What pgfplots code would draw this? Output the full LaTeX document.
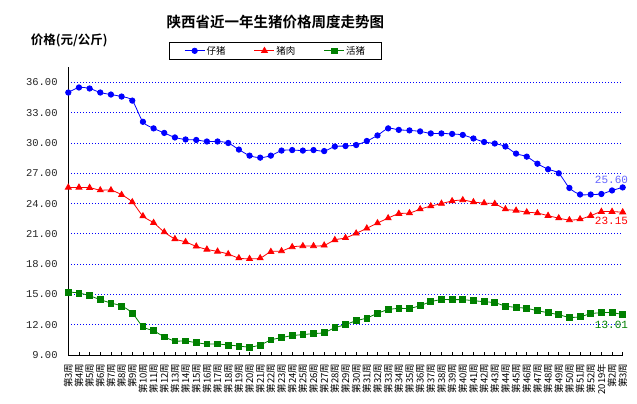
\documentclass[border=0pt]{standalone}
\usepackage{pgfplots}
\pgfplotsset{compat=1.18}
\usepackage{pgfplotstable}
\usepackage{fontspec}
\setmainfont{Noto Sans CJK SC}[BoldFont={Noto Sans CJK SC Bold}]
\newfontfamily\monofont{Liberation Mono}
\definecolor{lblblue}{HTML}{6666FF}
\definecolor{xlgreen}{HTML}{008000}

\pgfplotstableread{
x piglet pork hog
0 35.00 25.60 15.24
1 35.50 25.60 15.14
2 35.40 25.57 14.87
3 35.00 25.33 14.48
4 34.80 25.33 14.15
5 34.60 24.87 13.85
6 34.20 24.15 13.16
7 32.10 22.76 11.80
8 31.45 22.10 11.40
9 31.00 21.18 10.80
10 30.55 20.50 10.39
11 30.35 20.20 10.39
12 30.30 19.76 10.22
13 30.15 19.46 10.09
14 30.15 19.26 10.09
15 30.00 19.00 9.99
16 29.35 18.60 9.89
17 28.75 18.53 9.79
18 28.55 18.60 9.99
19 28.75 19.23 10.49
20 29.25 19.30 10.72
21 29.30 19.70 10.92
22 29.25 19.80 11.02
23 29.30 19.80 11.12
24 29.20 19.86 11.22
25 29.65 20.40 11.70
26 29.70 20.60 12.01
27 29.80 21.05 12.40
28 30.20 21.55 12.66
29 30.75 22.07 13.13
30 31.45 22.56 13.49
31 31.30 23.00 13.62
32 31.25 23.06 13.62
33 31.15 23.45 13.89
34 30.95 23.75 14.28
35 30.95 24.00 14.48
36 30.90 24.25 14.48
37 30.80 24.35 14.48
38 30.45 24.15 14.38
39 30.10 24.05 14.28
40 29.95 23.98 14.18
41 29.65 23.45 13.85
42 28.95 23.32 13.72
43 28.65 23.15 13.62
44 27.95 23.06 13.39
45 27.40 22.80 13.19
46 27.00 22.56 12.99
47 25.55 22.37 12.73
48 24.90 22.46 12.79
49 24.90 22.80 13.09
50 24.95 23.20 13.19
51 25.30 23.20 13.19
52 25.60 23.15 13.01
}\datatable

\begin{document}
\begin{tikzpicture}[x=1pt,y=1pt]
\useasboundingbox (0,0) rectangle (637,404);
\node[font=\bfseries\fontsize{14.5}{16}\selectfont] at (275.3,382.3) {陕西省近一年生猪价格周度走势图};
\node[font=\bfseries\fontsize{12.5}{14}\selectfont] at (69.3,363.3) {价格(元/公斤)};
\begin{axis}[
  at={(68.3pt,49pt)}, anchor=south west,
  scale only axis, width=554.4pt, height=287.7pt,
  xmin=0, xmax=52, ymin=9, ymax=37.5,
  axis lines=left,
  axis line style={-, black, line width=0.8pt},
  ytick={9,12,...,36},
  xtick={0,...,52},
  xticklabels={第3周,第4周,第5周,第6周,第7周,第8周,第9周,第10周,第11周,第12周,第13周,第14周,第15周,第16周,第17周,第18周,第19周,第20周,第21周,第22周,第23周,第24周,第25周,第26周,第27周,第28周,第29周,第30周,第31周,第32周,第33周,第34周,第35周,第36周,第37周,第38周,第39周,第40周,第41周,第42周,第43周,第44周,第45周,第46周,第47周,第48周,第49周,第50周,第51周,第52周,2019年,第2周,第3周},
  tick align=inside,
  major tick length=3pt,
  ytick style={draw=none},
  xtick style={black, line width=0.6pt},
  ymajorgrids,
  grid style={blue, dash pattern=on 1pt off 2pt, line width=0.8pt},
  /pgf/number format/assume math mode=true,
  yticklabel={\pgfmathprintnumber[fixed,fixed zerofill,precision=2]{\tick}},
  yticklabel style={font=\monofont\fontsize{10.5}{10.5}\selectfont, inner sep=0pt, text=black!85},
  yticklabel shift=10.5pt,
  xticklabel style={rotate=90, anchor=east, font=\fontsize{9.5}{9.5}\selectfont, inner sep=0pt},
  xticklabel shift=8.5pt,
  legend columns=3,
  legend style={at={(0.3737,1.0573)}, anchor=center, draw=black, line width=0.8pt,
    font=\fontsize{9.5}{10}\selectfont, inner xsep=15pt, inner ysep=2pt,
    nodes={inner sep=1.5pt},
    /tikz/every even column/.append style={column sep=27pt}},
  legend image code/.code={\draw[mark repeat=2,mark phase=2] plot coordinates {(0pt,0pt)(10pt,0pt)(20pt,0pt)};},
  clip=false,
]
\addplot[blue, line width=0.8pt, smooth, tension=0.5, mark=*, mark size=2.7pt, mark options={solid}] table[x=x,y=piglet] {\datatable};
\addlegendentry{仔猪}
\addplot[red, line width=0.8pt, smooth, tension=0.5, mark=triangle*, mark size=3.4pt, mark options={solid}] table[x=x,y=pork] {\datatable};
\addlegendentry{猪肉}
\addplot[xlgreen, line width=0.8pt, smooth, tension=0.5, mark=square*, mark size=2.9pt, mark options={solid}] table[x=x,y=hog] {\datatable};
\addlegendentry{活猪}
\node[font=\monofont\fontsize{11}{11}\selectfont, text=lblblue, anchor=south east, inner sep=0pt] at (axis cs:52,25.6) [xshift=5.5pt, yshift=4pt] {25.60};
\node[font=\monofont\fontsize{11}{11}\selectfont, text=red, anchor=north east, inner sep=0pt] at (axis cs:52,23.15) [xshift=5.5pt, yshift=-4.5pt] {23.15};
\node[font=\monofont\fontsize{11}{11}\selectfont, text=xlgreen, anchor=north east, inner sep=0pt] at (axis cs:52,13.01) [xshift=5.5pt, yshift=-6pt] {13.01};
\end{axis}
\end{tikzpicture}
\end{document}
